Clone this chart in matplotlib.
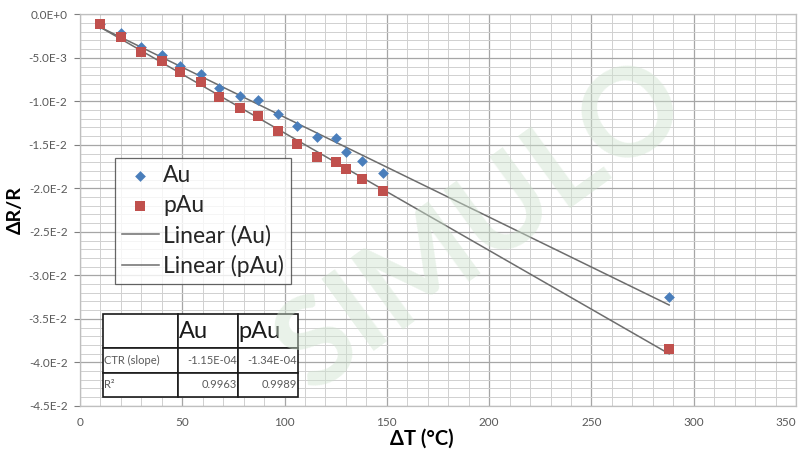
import numpy as np
import matplotlib
matplotlib.use("Agg")
import matplotlib.pyplot as plt
from matplotlib.ticker import MultipleLocator, FuncFormatter

plt.rcParams['font.family'] = ['Lato', 'DejaVu Sans']

# datos
dt = [10, 20, 30, 40, 49, 59, 68, 78, 87, 97, 106, 116, 125, 130, 138, 148, 288]
au = [-1.1e-3, -2.2e-3, -3.8e-3, -4.7e-3, -5.9e-3, -6.9e-3, -8.5e-3, -9.4e-3,
      -9.9e-3, -1.15e-2, -1.28e-2, -1.41e-2, -1.42e-2, -1.58e-2, -1.69e-2,
      -1.82e-2, -3.25e-2]
pau = [-1.1e-3, -2.6e-3, -4.3e-3, -5.4e-3, -6.6e-3, -7.8e-3, -9.5e-3, -1.08e-2,
       -1.17e-2, -1.34e-2, -1.49e-2, -1.64e-2, -1.70e-2, -1.78e-2, -1.89e-2,
       -2.03e-2, -3.85e-2]

tabla_cols = ["", "Au", "pAu"]
tabla_filas = [["CTR (slope)", "-1.15E-04", "-1.34E-04"],
               ["R²", "0.9963", "0.9989"]]

AZUL = "#4a7ebb"
ROJO = "#c0504d"
GRIS_LINEA = "#6d6d6d"

fig = plt.figure(figsize=(8.03, 4.55), dpi=100)
ax = fig.add_axes([80 / 803, 1 - 405.8 / 455, 716 / 803, 391.5 / 455])

x = np.array(dt, dtype=float)
ya = np.array(au)
yp = np.array(pau)

ax.scatter(x, ya, marker="D", s=30, color=AZUL, zorder=4, label="Au", linewidths=0)
ax.scatter(x, yp, marker="s", s=48, color=ROJO, zorder=4, label="pAu", linewidths=0)

xx = np.array([x.min(), x.max()])
ca = np.polyfit(x, ya, 1)
cp = np.polyfit(x, yp, 1)
ax.plot(xx, np.polyval(ca, xx), color=GRIS_LINEA, lw=1.1, zorder=3, label="Linear (Au)")
ax.plot(xx, np.polyval(cp, xx), color=GRIS_LINEA, lw=1.1, zorder=3, label="Linear (pAu)")

ax.set_xlim(0, 350)
ax.set_ylim(-4.5e-2, 0)
ax.xaxis.set_major_locator(MultipleLocator(50))
ax.xaxis.set_minor_locator(MultipleLocator(10))
ax.yaxis.set_major_locator(MultipleLocator(5e-3))
ax.yaxis.set_minor_locator(MultipleLocator(1e-3))


def fmt_y(v, pos):
    if abs(v) < 1e-12:
        return "0.0E+0"
    s = "%.1E" % v
    mant, exp = s.split("E")
    return "%sE%d" % (mant, int(exp))


def fmt_x(v, pos):
    # el 350 va aparte, alineado a la derecha para que no se corte
    if v >= 349:
        return ""
    return "%d" % v


ax.xaxis.set_major_formatter(FuncFormatter(fmt_x))
ax.yaxis.set_major_formatter(FuncFormatter(fmt_y))
ax.grid(which="major", color="#a6a6a6", lw=0.9, zorder=0)
ax.grid(which="minor", color="#d0d0d0", lw=0.7, zorder=0)
ax.set_axisbelow(True)
ax.tick_params(axis="both", which="both", labelsize=8.5, colors="#7f7f7f",
               labelcolor="#595959")
ax.tick_params(axis="x", which="both", length=0, pad=8)
ax.tick_params(axis="y", which="major", length=4, direction="out", pad=5)
ax.tick_params(axis="y", which="minor", length=0)
for s in ax.spines.values():
    s.set_color("#bfbfbf")
    s.set_linewidth(0.9)

ax.text(1.0, -0.028, "350", transform=ax.transAxes, ha="right", va="top",
        fontsize=8.5, color="#595959")

ax.set_ylabel("ΔR/R", fontsize=14, fontweight="bold")
ax.yaxis.set_label_coords(-0.078, 0.5)
ax.set_xlabel("ΔT (°C)", fontsize=14.5, fontweight="bold")
ax.xaxis.set_label_coords(0.478, -0.058)

leg = ax.legend(loc="upper left", bbox_to_anchor=(0.049, 0.632), fontsize=16.5,
                frameon=True, fancybox=False, edgecolor="#404040",
                handlelength=1.6, handletextpad=0.2, borderpad=0.3,
                labelspacing=0.38, borderaxespad=0, markerscale=1.0)
leg.get_frame().set_linewidth(0.9)
for t in leg.get_texts():
    t.set_color("#262626")

tabla = ax.table(cellText=[tabla_cols] + tabla_filas,
                 colWidths=[0.385, 0.3075, 0.3075],
                 bbox=[0.032, 0.0225, 0.2725, 0.212], zorder=5)
tabla.auto_set_font_size(False)
for (r, c), celda in tabla.get_celld().items():
    celda.set_edgecolor("#1a1a1a")
    celda.set_linewidth(1.2)
    celda.set_facecolor("white")
    txt = celda.get_text()
    if r == 0:
        celda.set_height(1.4)
        txt.set_fontsize(17)
        txt.set_color("#1a1a1a")
        celda.set_text_props(ha="left")
        celda.PAD = 0.01
    else:
        celda.set_height(1.0)
        txt.set_fontsize(8)
        txt.set_color("#595959")
        celda.set_text_props(ha="left" if c == 0 else "right")
        celda.PAD = 0.02

# marca de agua
fig.text(0.6, 0.5, "SIMULO", fontsize=88, fontweight="bold", color="#cfe3cf",
         alpha=0.45, rotation=36, ha="center", va="center", zorder=10)

fig.savefig("out.png", dpi=100)
